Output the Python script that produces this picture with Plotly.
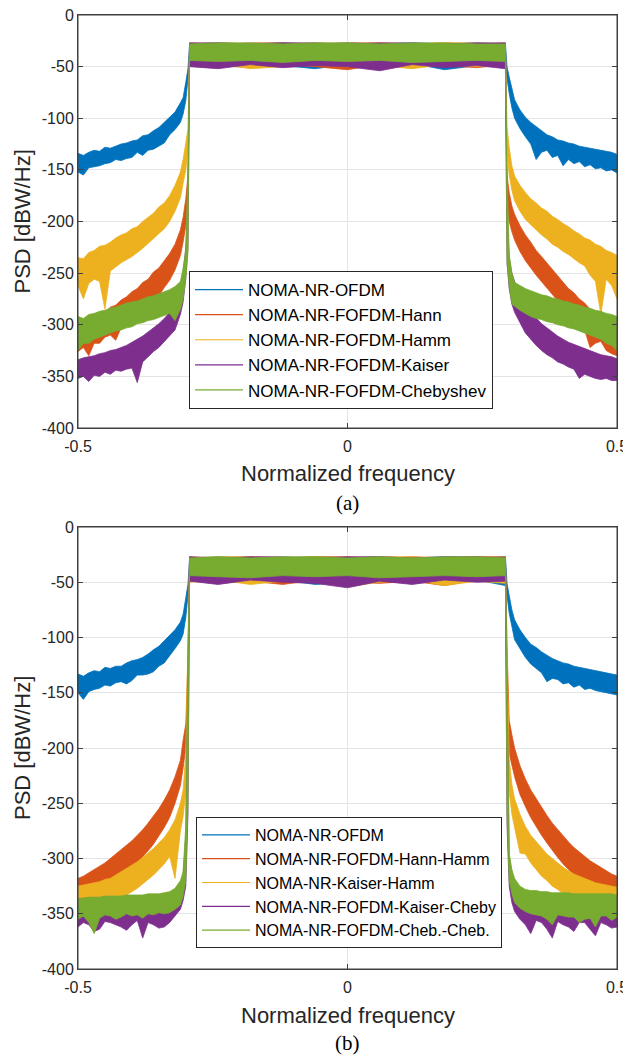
import plotly.graph_objects as go

# ---------------- frequency grids (normalized frequency) ----------------
f_left = [-0.50, -0.49, -0.48, -0.47, -0.46, -0.45, -0.44, -0.43, -0.42, -0.41, -0.40, -0.39, -0.38,
          -0.37, -0.36, -0.35, -0.34, -0.33, -0.32, -0.31, -0.305, -0.30, -0.296]
f_pass = [-0.293, -0.24, -0.18, -0.12, -0.06, 0.0, 0.06, 0.12, 0.18, 0.24, 0.293]
f_right = [0.296, 0.30, 0.305, 0.31, 0.32, 0.33, 0.34, 0.35, 0.36, 0.37, 0.38, 0.39, 0.40,
           0.41, 0.42, 0.43, 0.44, 0.45, 0.46, 0.47, 0.48, 0.49, 0.50]
freq = f_left + f_pass + f_right

x_ticks = [-0.5, 0, 0.5]
x_tick_text = ["-0.5", "0", "0.5"]
y_ticks = [-400, -350, -300, -250, -200, -150, -100, -50, 0]
y_tick_text = ["-400", "-350", "-300", "-250", "-200", "-150", "-100", "-50", "0"]

# ---------------- panel (a): upper / lower envelope of the noisy PSD [dBW/Hz] ----------------
names_a = ["NOMA-NR-OFDM", "NOMA-NR-FOFDM-Hann", "NOMA-NR-FOFDM-Hamm",
           "NOMA-NR-FOFDM-Kaiser", "NOMA-NR-FOFDM-Chebyshev"]

a_ofdm_hi = [-134, -136, -133, -131, -132, -128, -129, -127, -125, -124, -122, -121, -117, -116, -112, -109, -104, -99, -94, -85, -80, -65, -52,
             -28, -27, -28, -27, -28, -27, -28, -27, -28, -27, -28,
             -50, -60, -72, -82, -92, -99, -104, -108, -112, -116, -118, -121, -122, -124, -125, -127, -128, -129, -130, -131, -132, -133, -135]
a_ofdm_lo = [-152, -155, -148, -147, -146, -144, -143, -140, -141, -139, -138, -133, -136, -131, -130, -127, -124, -116, -111, -104, -96, -83, -62,
             -48, -50, -47, -49, -52, -48, -50, -47, -53, -49, -50,
             -62, -76, -90, -100, -110, -118, -125, -140, -133, -131, -138, -136, -146, -140, -144, -142, -147, -145, -149, -148, -151, -150, -153]

a_hann_hi = [-300, -299, -296, -294, -290, -288, -283, -281, -276, -273, -268, -265, -259, -256, -249, -245, -238, -231, -222, -208, -196, -178, -155,
             -27, -28, -27, -27, -28, -27, -27, -28, -27, -28, -27,
             -155, -172, -185, -193, -204, -213, -220, -228, -234, -240, -246, -253, -258, -265, -269, -275, -279, -285, -288, -293, -296, -301, -304]
a_hann_lo = [-326, -322, -330, -318, -318, -312, -310, -315, -303, -300, -294, -292, -285, -280, -275, -272, -264, -257, -247, -233, -220, -204, -178,
             -47, -49, -51, -48, -50, -53, -48, -50, -49, -51, -48,
             -180, -200, -210, -218, -229, -238, -245, -252, -259, -265, -271, -277, -283, -289, -294, -299, -305, -322, -318, -316, -325, -328, -330]

a_hamm_hi = [-235, -236, -230, -228, -224, -223, -220, -216, -213, -211, -207, -205, -200, -196, -192, -186, -182, -175, -165, -152, -140, -124, -110,
             -28, -27, -28, -28, -27, -28, -27, -28, -27, -27, -28,
             -108, -128, -146, -156, -165, -172, -178, -182, -187, -190, -195, -198, -202, -205, -209, -212, -216, -218, -222, -224, -228, -230, -233]
a_hamm_lo = [-262, -275, -260, -256, -258, -285, -248, -244, -240, -237, -234, -230, -226, -222, -217, -212, -207, -200, -190, -177, -163, -150, -130,
             -49, -47, -52, -50, -48, -50, -49, -52, -48, -50, -49,
             -132, -155, -170, -180, -190, -198, -204, -208, -213, -217, -222, -225, -229, -232, -236, -240, -243, -252, -258, -290, -256, -262, -275]

a_kaiser_hi = [-334, -332, -331, -330, -328, -327, -325, -324, -322, -320, -317, -314, -311, -307, -303, -299, -294, -288, -278, -262, -250, -225, -180,
               -27, -27, -28, -27, -27, -28, -27, -27, -28, -27, -27,
               -190, -235, -250, -258, -270, -281, -288, -294, -299, -303, -307, -311, -314, -317, -319, -321, -323, -325, -327, -329, -330, -331, -333]
a_kaiser_lo = [-352, -350, -355, -349, -350, -346, -348, -344, -345, -343, -342, -356, -336, -331, -326, -322, -317, -311, -305, -290, -278, -255, -225,
               -50, -52, -48, -51, -49, -50, -54, -48, -51, -49, -52,
               -240, -265, -280, -288, -298, -308, -314, -320, -325, -329, -332, -336, -338, -341, -343, -352, -348, -350, -352, -353, -352, -354, -354]

a_cheby_hi = [-292, -294, -290, -289, -287, -286, -284, -283, -281, -279, -278, -277, -275, -273, -272, -270, -268, -266, -263, -258, -245, -228, -150,
              -28, -27, -27, -28, -27, -27, -28, -27, -27, -28, -28,
              -150, -232, -250, -259, -262, -265, -267, -269, -271, -272, -274, -275, -277, -278, -280, -281, -283, -284, -286, -287, -289, -290, -292]
a_cheby_lo = [-325, -318, -318, -314, -312, -310, -308, -306, -305, -303, -302, -299, -298, -296, -295, -293, -291, -289, -296, -285, -275, -255, -230,
              -44, -45, -44, -46, -44, -45, -44, -46, -45, -44, -45,
              -240, -262, -280, -282, -286, -289, -292, -294, -295, -297, -298, -300, -301, -303, -304, -306, -308, -310, -312, -314, -318, -320, -325]

# ---------------- panel (b) ----------------
names_b = ["NOMA-NR-OFDM", "NOMA-NR-FOFDM-Hann-Hamm", "NOMA-NR-Kaiser-Hamm",
           "NOMA-NR-FOFDM-Kaiser-Cheby", "NOMA-NR-FOFDM-Cheb.-Cheb."]

b_ofdm_hi = [-133, -135, -132, -130, -131, -127, -128, -126, -126, -123, -121, -120, -118, -115, -111, -108, -103, -98, -93, -86, -79, -64, -52,
             -28, -27, -28, -28, -27, -28, -27, -28, -27, -28, -27,
             -51, -62, -75, -84, -93, -100, -106, -109, -113, -116, -119, -121, -123, -124, -126, -127, -128, -129, -130, -131, -132, -133, -134]
b_ofdm_lo = [-150, -156, -149, -147, -146, -143, -144, -141, -140, -142, -139, -134, -134, -133, -131, -126, -123, -117, -110, -103, -97, -82, -62,
             -49, -47, -51, -48, -52, -50, -47, -51, -49, -48, -53,
             -62, -78, -90, -102, -110, -118, -124, -128, -132, -140, -137, -138, -142, -141, -145, -143, -147, -146, -148, -149, -150, -151, -152]

b_hannhamm_hi = [-318, -316, -313, -310, -307, -304, -300, -296, -292, -288, -284, -279, -274, -268, -262, -255, -247, -238, -226, -211, -193, -178, -120,
                 -27, -28, -27, -28, -27, -27, -28, -27, -28, -27, -27,
                 -110, -175, -188, -200, -216, -228, -238, -246, -254, -261, -268, -274, -280, -285, -290, -294, -298, -302, -305, -308, -311, -314, -316]
b_hannhamm_lo = [-340, -342, -337, -334, -331, -328, -325, -321, -317, -313, -309, -304, -299, -293, -287, -280, -272, -263, -250, -234, -218, -200, -190,
                 -48, -51, -49, -52, -48, -50, -51, -49, -53, -48, -50,
                 -190, -205, -215, -226, -242, -253, -263, -271, -279, -286, -293, -299, -305, -310, -315, -319, -323, -327, -330, -333, -336, -338, -340]

b_kaiserhamm_hi = [-325, -324, -323, -322, -321, -319, -318, -315, -312, -309, -306, -303, -299, -295, -291, -286, -281, -274, -265, -250, -238, -205, -110,
                   -28, -27, -27, -28, -27, -28, -27, -27, -28, -27, -28,
                   -110, -210, -233, -246, -260, -271, -279, -285, -291, -296, -300, -304, -308, -311, -314, -316, -318, -320, -322, -323, -324, -325, -326]
b_kaiserhamm_lo = [-343, -348, -345, -342, -342, -340, -340, -338, -336, -333, -330, -327, -323, -319, -315, -310, -305, -298, -318, -275, -262, -240, -200,
                   -50, -48, -52, -49, -47, -54, -50, -48, -53, -49, -51,
                   -210, -240, -260, -272, -295, -296, -304, -310, -316, -320, -325, -328, -332, -334, -337, -339, -341, -343, -344, -345, -346, -347, -348]

b_kaisercheby_hi = [-337, -336, -336, -336, -336, -335, -335, -335, -335, -334, -334, -334, -334, -333, -333, -333, -332, -331, -328, -322, -315, -280, -130,
                    -27, -28, -27, -27, -28, -27, -27, -28, -27, -27, -28,
                    -140, -298, -314, -322, -328, -331, -332, -332, -333, -333, -334, -334, -334, -334, -334, -335, -335, -335, -335, -335, -335, -335, -336]
b_kaisercheby_lo = [-362, -358, -360, -366, -364, -357, -358, -360, -362, -365, -360, -356, -372, -358, -360, -363, -362, -358, -352, -346, -338, -325, -260,
                    -49, -52, -48, -50, -51, -55, -49, -52, -48, -50, -49,
                    -270, -325, -340, -348, -355, -360, -368, -356, -358, -364, -372, -357, -360, -362, -366, -358, -358, -364, -370, -358, -360, -363, -362]

b_chebcheb_hi = [-336, -336, -335, -335, -335, -334, -334, -334, -334, -333, -333, -333, -333, -332, -332, -332, -331, -330, -327, -320, -312, -270, -120,
                 -28, -27, -28, -27, -27, -28, -27, -28, -27, -27, -28,
                 -130, -295, -310, -318, -325, -328, -329, -329, -330, -330, -331, -331, -331, -331, -332, -332, -332, -332, -332, -332, -332, -332, -333]
b_chebcheb_lo = [-355, -352, -358, -368, -354, -351, -352, -355, -353, -350, -352, -351, -354, -350, -351, -349, -350, -349, -346, -342, -334, -320, -250,
                 -44, -45, -46, -44, -45, -44, -46, -45, -44, -45, -44,
                 -260, -320, -332, -340, -345, -348, -350, -351, -352, -355, -360, -351, -352, -353, -353, -358, -355, -354, -362, -352, -352, -356, -353]

colors = ["#0072BD", "#D95319", "#EDB120", "#7E2F8E", "#77AC30"]

FONT = "Liberation Sans, Arial, Helvetica, sans-serif"
TXT = "#262626"

fig = go.Figure()

panels = [
    ("x", "y", "legend", names_a,
     [(a_ofdm_hi, a_ofdm_lo), (a_hann_hi, a_hann_lo), (a_hamm_hi, a_hamm_lo),
      (a_kaiser_hi, a_kaiser_lo), (a_cheby_hi, a_cheby_lo)]),
    ("x2", "y2", "legend2", names_b,
     [(b_ofdm_hi, b_ofdm_lo), (b_hannhamm_hi, b_hannhamm_lo), (b_kaiserhamm_hi, b_kaiserhamm_lo),
      (b_kaisercheby_hi, b_kaisercheby_lo), (b_chebcheb_hi, b_chebcheb_lo)]),
]

for xa, ya, leg, names, bands in panels:
    for (hi, lo), name, col in zip(bands, names, colors):
        fig.add_trace(go.Scatter(
            x=freq + freq[::-1], y=hi + lo[::-1],
            fill="toself", fillcolor=col, mode="lines",
            line=dict(color=col, width=0.8),
            showlegend=False, hoverinfo="skip", xaxis=xa, yaxis=ya))
    for name, col in zip(names, colors):
        fig.add_trace(go.Scatter(
            x=[None], y=[None], mode="lines", name=name,
            line=dict(color=col, width=1.2), xaxis=xa, yaxis=ya, legend=leg))

# page body has an 8 px margin: figure is placed at (8, 8) inside the 631x1059 window
OFF = 8
W, H = 631 - OFF, 1059 - OFF


def px(xp):
    return (xp - OFF) / W


def py(yp):
    return 1 - (yp - OFF) / H


x_dom = [px(78), px(617)]
ya_dom = [py(428), py(15)]
yb_dom = [py(969), py(527)]

axis_common = dict(showline=True, linecolor="#404040", linewidth=1, mirror="ticks",
                   ticks="inside", ticklen=5, tickcolor="#404040", automargin=False,
                   ticklabeloverflow="allow",
                   showgrid=True, gridcolor="#e4e4e4", gridwidth=1, zeroline=False,
                   tickfont=dict(family=FONT, size=16, color=TXT))

fig.update_layout(
    width=W, height=H,
    margin=dict(l=0, r=0, t=0, b=0),
    paper_bgcolor="white", plot_bgcolor="white",
    xaxis=dict(domain=x_dom, anchor="y", range=[-0.5, 0.5], tickvals=x_ticks, ticktext=x_tick_text,
               ticklabelstandoff=4, **axis_common),
    yaxis=dict(domain=ya_dom, anchor="x", range=[-400, 0], tickvals=y_ticks, ticktext=y_tick_text, **axis_common),
    xaxis2=dict(domain=x_dom, anchor="y2", range=[-0.5, 0.5], tickvals=x_ticks, ticktext=x_tick_text,
                ticklabelstandoff=4, **axis_common),
    yaxis2=dict(domain=yb_dom, anchor="x2", range=[-400, 0], tickvals=y_ticks, ticktext=y_tick_text, **axis_common),
    legend=dict(x=px(189), y=py(271), xanchor="left", yanchor="top",
                bgcolor="white", bordercolor="#262626", borderwidth=1, itemwidth=48,
                font=dict(family=FONT, size=17, color="black"), tracegroupgap=0),
    legend2=dict(x=px(196), y=py(817), xanchor="left", yanchor="top",
                 bgcolor="white", bordercolor="#262626", borderwidth=1, itemwidth=48,
                 font=dict(family=FONT, size=16, color="black"), tracegroupgap=0),
    showlegend=True,
)

# axes box outline (MATLAB "box on")
shapes = []
for xr, yr in [("x", "y"), ("x2", "y2")]:
    shapes.append(dict(type="rect", xref=xr + " domain", yref=yr + " domain", x0=0, x1=1, y0=0, y1=1,
                       line=dict(color="#404040", width=1), fillcolor="rgba(0,0,0,0)", layer="above"))
fig.update_layout(shapes=shapes)

ann = []
for yc_title, yc_x, yc_cap, cap in [((15 + 428) / 2, 473, 503, "(a)"), ((527 + 969) / 2, 1015, 1043, "(b)")]:
    ann.append(dict(x=px(22), y=py(yc_title), xref="paper", yref="paper", text="PSD [dBW/Hz]",
                    textangle=-90, showarrow=False, xanchor="center", yanchor="middle",
                    font=dict(family=FONT, size=22, color=TXT)))
    ann.append(dict(x=px(347.5), y=py(yc_x), xref="paper", yref="paper", text="Normalized frequency",
                    showarrow=False, xanchor="center", yanchor="middle",
                    font=dict(family=FONT, size=22, color=TXT)))
    ann.append(dict(x=px(347.5), y=py(yc_cap), xref="paper", yref="paper", text=cap,
                    showarrow=False, xanchor="center", yanchor="middle",
                    font=dict(family="Liberation Serif, Times New Roman, serif", size=21, color="black")))
fig.update_layout(annotations=ann)

fig.write_html("out.html")
